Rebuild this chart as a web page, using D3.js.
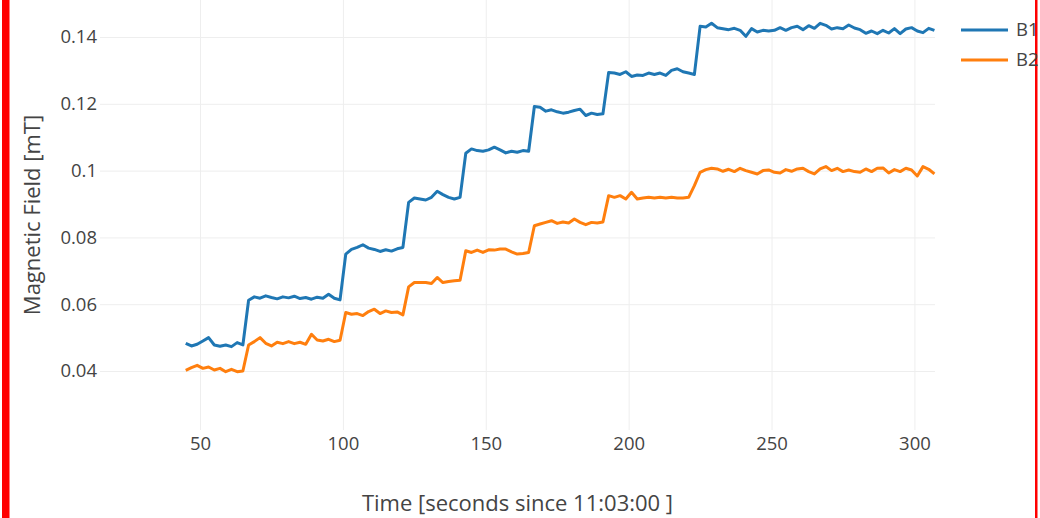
<!DOCTYPE html>
<html>
<head>
<meta charset="utf-8">
<script src="https://cdn.jsdelivr.net/npm/d3@7"></script>
<style>
  body { margin: 0; background: #fff; }
  svg { display: block; font-family: "Open Sans", sans-serif; }
</style>
</head>
<body>
<svg width="1040" height="518"></svg>
<script>
// seconds since 11:03:00
const TIMES = [
  45, 47, 49, 51, 53, 55, 57, 59, 61, 63,
  65, 67, 69, 71, 73, 75, 77, 79, 81, 83,
  85, 87, 89, 91, 93, 95, 97, 99, 101, 103,
  105, 107, 109, 111, 113, 115, 117, 119, 121, 123,
  125, 127, 129, 131, 133, 135, 137, 139, 141, 143,
  145, 147, 149, 151, 153, 155, 157, 159, 161, 163,
  165, 167, 169, 171, 173, 175, 177, 179, 181, 183,
  185, 187, 189, 191, 193, 195, 197, 199, 201, 203,
  205, 207, 209, 211, 213, 215, 217, 219, 221, 223,
  225, 227, 229, 231, 233, 235, 237, 239, 241, 243,
  245, 247, 249, 251, 253, 255, 257, 259, 261, 263,
  265, 267, 269, 271, 273, 275, 277, 279, 281, 283,
  285, 287, 289, 291, 293, 295, 297, 299, 301, 303,
  305, 307
];

const B1 = [
  0.0483, 0.0475, 0.0480, 0.0490, 0.0500, 0.0478, 0.0474, 0.0478, 0.0473, 0.0485,
  0.0478, 0.0612, 0.0622, 0.0618, 0.0625, 0.0620, 0.0616, 0.0622, 0.0619, 0.0624,
  0.0617, 0.0620, 0.0615, 0.0621, 0.0618, 0.0630, 0.0618, 0.0613, 0.0750, 0.0764,
  0.0770, 0.0778, 0.0768, 0.0764, 0.0758, 0.0763, 0.0759, 0.0766, 0.0770, 0.0905,
  0.0918, 0.0915, 0.0912, 0.0920, 0.0938, 0.0928, 0.0920, 0.0915, 0.0920, 0.1052,
  0.1065, 0.1060, 0.1058, 0.1062, 0.1070, 0.1062, 0.1053, 0.1058, 0.1055, 0.1060,
  0.1058, 0.1192, 0.1190, 0.1178, 0.1182, 0.1176, 0.1172, 0.1175, 0.1180, 0.1184,
  0.1165, 0.1172, 0.1168, 0.1170, 0.1294, 0.1292, 0.1288, 0.1296, 0.1282, 0.1286,
  0.1285, 0.1292, 0.1288, 0.1292, 0.1285, 0.1300, 0.1305, 0.1296, 0.1292, 0.1288,
  0.1432, 0.1430, 0.1441, 0.1428, 0.1425, 0.1422, 0.1426, 0.1420, 0.1402, 0.1425,
  0.1415, 0.1420, 0.1418, 0.1420, 0.1428, 0.1420, 0.1428, 0.1432, 0.1422, 0.1434,
  0.1426, 0.1441, 0.1435, 0.1424, 0.1428, 0.1425, 0.1436, 0.1427, 0.1422, 0.1411,
  0.1418, 0.1410, 0.1420, 0.1412, 0.1425, 0.1410, 0.1424, 0.1428, 0.1418, 0.1413,
  0.1426, 0.1420
];

const B2 = [
  0.0402, 0.0410, 0.0417, 0.0408, 0.0412, 0.0403, 0.0408, 0.0398, 0.0405, 0.0398,
  0.0400, 0.0478, 0.0488, 0.0500, 0.0483, 0.0475, 0.0486, 0.0482, 0.0488, 0.0482,
  0.0486, 0.0480, 0.0510, 0.0493, 0.0490, 0.0495, 0.0488, 0.0492, 0.0575, 0.0570,
  0.0572, 0.0566, 0.0578, 0.0585, 0.0572, 0.0580, 0.0575, 0.0577, 0.0568, 0.0652,
  0.0665, 0.0665, 0.0665, 0.0662, 0.0680, 0.0665, 0.0668, 0.0670, 0.0672, 0.0760,
  0.0755, 0.0762, 0.0755, 0.0763, 0.0762, 0.0765, 0.0765, 0.0757, 0.0750, 0.0752,
  0.0755, 0.0835, 0.0840, 0.0845, 0.0850, 0.0842, 0.0846, 0.0843, 0.0855, 0.0845,
  0.0838, 0.0845, 0.0843, 0.0846, 0.0925, 0.0920, 0.0925, 0.0915, 0.0935, 0.0915,
  0.0918, 0.0920, 0.0918, 0.0920, 0.0918, 0.0920, 0.0918, 0.0918, 0.0920, 0.0955,
  0.0995, 0.1003, 0.1007, 0.1005, 0.0998, 0.1004, 0.0997, 0.1007, 0.1000, 0.0995,
  0.0990, 0.1000, 0.1002, 0.0995, 0.0993, 0.1003, 0.0998, 0.1005, 0.1007, 0.0997,
  0.0990, 0.1005, 0.1012, 0.1000, 0.1007, 0.0997, 0.1002, 0.0997, 0.0995, 0.1005,
  0.0997, 0.1007, 0.1008, 0.0993, 0.1003, 0.0997, 0.1007, 0.1002, 0.0984, 0.1012,
  0.1004, 0.0990
];

const SERIES_NAMES = ['B1', 'B2'];
const SERIES_COLORS = ['#1f77b4', '#ff7f0e'];
const X_TICKS = [50, 100, 150, 200, 250, 300];
const Y_TICKS = [0.04, 0.06, 0.08, 0.1, 0.12, 0.14];
const Y_TICK_LABELS = ['0.04', '0.06', '0.08', '0.1', '0.12', '0.14'];

const SVG = d3.select('svg');
const PLOT_LEFT = 100;
const PLOT_RIGHT = 935;
const PLOT_TOP = 0;
const PLOT_BOTTOM = 430;
const TICK_FONT = '18.5px';
const TITLE_FONT = '22px';

const X_SCALE = d3.scaleLinear()
  .domain([15, 307.2])
  .range([PLOT_LEFT, PLOT_RIGHT]);
const Y_SCALE = d3.scaleLinear()
  .domain([0.02234, 0.15108])
  .range([PLOT_BOTTOM, PLOT_TOP]);

// border strips from the screenshot
SVG.append('rect').attr('x', 2).attr('y', 0).attr('width', 7.5).attr('height', 518).style('fill', '#ff0000');
SVG.append('rect').attr('x', 1035).attr('y', 0).attr('width', 2.5).attr('height', 518).style('fill', '#ff0000');

// x grid + ticks
const X_AXIS_G = SVG.append('g')
  .attr('id', 'xAxis')
  .attr('transform', `translate(0,${PLOT_BOTTOM})`)
  .call(d3.axisBottom(X_SCALE)
    .tickValues(X_TICKS)
    .tickSize(-(PLOT_BOTTOM - PLOT_TOP))
    .tickPadding(7)
    .tickFormat(d3.format('d')));
X_AXIS_G.select('.domain').remove();
X_AXIS_G.selectAll('line').style('stroke', '#eeeeee').style('stroke-width', 1);
X_AXIS_G.selectAll('text')
  .style('fill', '#444')
  .style('font-size', TICK_FONT)
  .style('font-family', '"Open Sans", sans-serif');

// y grid + ticks
const Y_AXIS_G = SVG.append('g')
  .attr('id', 'yAxis')
  .attr('transform', `translate(${PLOT_LEFT},0)`)
  .call(d3.axisLeft(Y_SCALE)
    .tickValues(Y_TICKS)
    .tickSize(-(PLOT_RIGHT - PLOT_LEFT))
    .tickPadding(3)
    .tickFormat((d, i) => Y_TICK_LABELS[i]));
Y_AXIS_G.select('.domain').remove();
Y_AXIS_G.selectAll('line').style('stroke', '#eeeeee').style('stroke-width', 1);
Y_AXIS_G.selectAll('text')
  .style('fill', '#444')
  .style('font-size', TICK_FONT)
  .style('font-family', '"Open Sans", sans-serif');

// lines
const LINE = d3.line()
  .x(d => X_SCALE(d[0]))
  .y(d => Y_SCALE(d[1]));

[B1, B2].forEach((vals, index) => {
  SVG.append('path')
    .datum(TIMES.map((t, i) => [t, vals[i]]))
    .attr('d', LINE)
    .style('fill', 'none')
    .style('stroke', SERIES_COLORS[index])
    .style('stroke-width', 3)
    .style('stroke-linejoin', 'round');
});

// axis titles
SVG.append('text')
  .text('Time [seconds since 11:03:00 ]')
  .attr('x', (PLOT_LEFT + PLOT_RIGHT) / 2)
  .attr('y', 511)
  .style('text-anchor', 'middle')
  .style('font-size', TITLE_FONT)
  .style('fill', '#444');

SVG.append('text')
  .text('Magnetic Field [mT]')
  .attr('transform', `translate(40,${(PLOT_TOP + PLOT_BOTTOM) / 2}) rotate(-90)`)
  .style('text-anchor', 'middle')
  .style('font-size', TITLE_FONT)
  .style('fill', '#444');

// legend
const LEGEND = SVG.append('g').attr('id', 'legend');
SERIES_NAMES.forEach((name, i) => {
  const y = 30 + i * 30;
  LEGEND.append('line')
    .attr('x1', 961).attr('x2', 1008)
    .attr('y1', y).attr('y2', y)
    .style('stroke', SERIES_COLORS[i])
    .style('stroke-width', 3);
  LEGEND.append('text')
    .text(name)
    .attr('x', 1016)
    .attr('y', y)
    .attr('dy', '0.35em')
    .style('font-size', TICK_FONT)
    .style('fill', '#444');
});
</script>
</body>
</html>
